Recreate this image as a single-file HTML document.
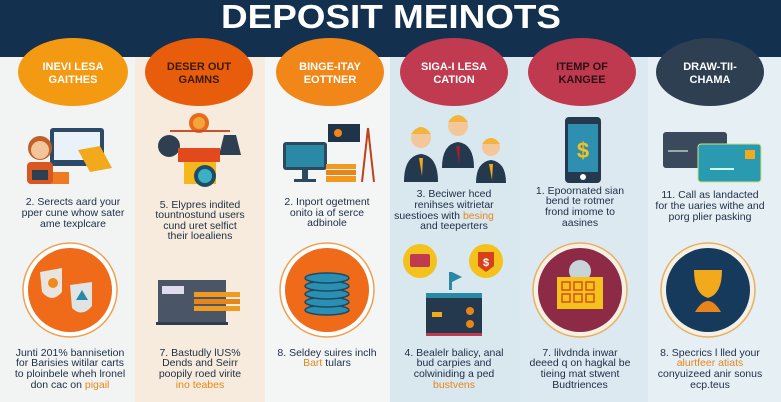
<!DOCTYPE html>
<html><head><meta charset="utf-8"><style>
html,body{margin:0;padding:0;width:781px;height:402px;overflow:hidden;background:#f3f4f4}
svg{display:block}
text{font-family:"Liberation Sans",sans-serif}
</style></head><body>
<svg width="781" height="402" viewBox="0 0 781 402">
<rect x="0" y="0" width="135" height="402" fill="#f2f3f3"/>
<rect x="135" y="0" width="130" height="402" fill="#f6ebdc"/>
<rect x="265" y="0" width="125" height="402" fill="#f4f5f5"/>
<rect x="390" y="0" width="130" height="402" fill="#d9e7ef"/>
<rect x="520" y="0" width="128" height="402" fill="#dde9f0"/>
<rect x="648" y="0" width="133" height="402" fill="#e6eff4"/>
<rect x="0" y="0" width="781" height="57" fill="#13304f"/>
<text x="221" y="28" textLength="340" lengthAdjust="spacingAndGlyphs" font-size="33" font-weight="bold" fill="#fff">DEPOSIT MEINOTS</text>
<g font-size="11" font-weight="bold" text-anchor="middle" fill="#fff">
<ellipse cx="73" cy="72" rx="55" ry="34" fill="#f39a12"/>
<text x="73" y="70">INEVI LESA</text><text x="73" y="83">GAITHES</text>
<ellipse cx="199" cy="72" rx="54" ry="34" fill="#e85d0c"/>
<text x="199" y="70" fill="#3a1a0a">DESER OUT</text><text x="199" y="83" fill="#3a1a0a">GAMNS</text>
<ellipse cx="330" cy="72" rx="54" ry="34" fill="#f08718"/>
<text x="330" y="70">BINGE-ITAY</text><text x="330" y="83">EOTTNER</text>
<ellipse cx="454" cy="72" rx="54" ry="34" fill="#c03a50"/>
<text x="454" y="70">SIGA-I LESA</text><text x="454" y="83">CATION</text>
<ellipse cx="582" cy="72" rx="54" ry="34" fill="#bf3a4f"/>
<text x="582" y="70" fill="#2a0f14">ITEMP OF</text><text x="582" y="83" fill="#2a0f14">KANGEE</text>
<ellipse cx="710" cy="72" rx="54" ry="34" fill="#2d3f51"/>
<text x="710" y="70">DRAW-TII-</text><text x="710" y="83">CHAMA</text>
</g>
<rect x="50" y="128" width="54" height="38" rx="3" fill="#2c4a66"/><rect x="54" y="132" width="46" height="28" fill="#e9f2f8"/>
<rect x="45" y="172" width="24" height="12" fill="#ee7b22"/><circle cx="40" cy="148" r="12" fill="#c0602a"/><circle cx="40" cy="150" r="9" fill="#f4c49a"/>
<rect x="27" y="162" width="26" height="22" rx="4" fill="#d8561f"/><rect x="32" y="170" width="16" height="10" fill="#2c3e50"/>
<polygon points="78,150 100,146 112,168 90,172" fill="#f3a91c"/>
<circle cx="199" cy="123" r="10" fill="#e86a1a"/><circle cx="199" cy="123" r="6" fill="#f4a53b"/>
<line x1="170" y1="131" x2="230" y2="131" stroke="#c8502a" stroke-width="2"/>
<circle cx="169" cy="146" r="11" fill="#2f3f52"/><polygon points="224,135 236,135 241,155 219,155" fill="#2f3f52"/>
<rect x="178" y="148" width="42" height="14" fill="#e24a1d"/><rect x="184" y="162" width="32" height="22" fill="#f4b81c"/>
<circle cx="205" cy="176" r="11" fill="#1c4c66"/><circle cx="205" cy="176" r="7" fill="#3ab0c4"/>
<rect x="283" y="142" width="44" height="28" rx="3" fill="#2c4a5e"/><rect x="286" y="145" width="38" height="22" fill="#2a8aa5"/>
<rect x="302" y="170" width="6" height="10" fill="#2c4a5e"/><rect x="294" y="179" width="22" height="3" fill="#2c4a5e"/>
<rect x="328" y="124" width="32" height="18" fill="#1f3448"/><circle cx="338" cy="133" r="4" fill="#f08718"/>
<rect x="326" y="164" width="30" height="5" fill="#f09a22"/><rect x="326" y="170" width="30" height="5" fill="#e8851a"/><rect x="326" y="176" width="30" height="6" fill="#f09a22"/>
<line x1="368" y1="128" x2="362" y2="182" stroke="#c0401a" stroke-width="2"/><line x1="368" y1="128" x2="374" y2="182" stroke="#c0401a" stroke-width="2"/>
<g>
<circle cx="421" cy="138" r="10" fill="#f4c79a"/><path d="M411,134 Q421,120 431,134" fill="#f2b43a"/><path d="M404,182 Q404,156 421,154 Q438,156 438,182Z" fill="#24384e"/><polygon points="419,158 423,158 422,176" fill="#f3a91c"/>
<circle cx="458" cy="126" r="10" fill="#f4c79a"/><path d="M448,122 Q458,108 468,122" fill="#f2b43a"/><path d="M442,168 Q442,144 458,142 Q474,144 474,168Z" fill="#24384e"/><polygon points="456,146 460,146 459,164" fill="#a02030"/>
<circle cx="491" cy="147" r="9" fill="#f4c79a"/><path d="M482,144 Q491,132 500,144" fill="#f2b43a"/><path d="M476,183 Q476,162 491,160 Q506,162 506,183Z" fill="#24384e"/><polygon points="489,164 493,164 492,180" fill="#f3a91c"/>
</g>
<rect x="565" y="117" width="36" height="66" rx="4" fill="#24384e"/><rect x="568" y="124" width="30" height="48" fill="#2f8fb0"/>
<text x="583" y="158" text-anchor="middle" font-size="22" font-weight="bold" fill="#f4c21c">$</text><circle cx="583" cy="177" r="3" fill="#fff"/>
<rect x="663" y="132" width="64" height="36" rx="3" fill="#3a4a5c"/><rect x="668" y="150" width="20" height="2" fill="#9aa"/>
<rect x="698" y="144" width="63" height="38" rx="3" fill="#2a9ab0" stroke="#cfe37a" stroke-width="1"/>
<rect x="745" y="150" width="10" height="9" fill="#f3a91c"/><rect x="710" y="168" width="24" height="2" fill="#cfe"/>
<g font-size="10.5" text-anchor="middle" fill="#1e2e45">
<text x="73" y="205">2. Serects aard your</text><text x="73" y="216">pper cune whow sater</text><text x="73" y="227">ame texplcare</text>
<text x="200" y="208">5. Elypres indited</text><text x="200" y="218">tountnostund users</text><text x="200" y="229">cund uret selfict</text><text x="200" y="239">their loealiens</text>
<text x="327" y="205">2. Inport ogetment</text><text x="327" y="216">onito ia of serce</text><text x="327" y="226">adbinole</text>
<text x="454" y="197">3. Beciwer hced</text><text x="454" y="208">renihses witrietar</text><text x="444" y="219">suestioes with <tspan fill="#e8851a">besing</tspan></text><text x="454" y="229">and teeperters</text>
<text x="580" y="194">1. Epoornated sian</text><text x="580" y="204">bend te rotmer</text><text x="580" y="215">frond imome to</text><text x="580" y="226">aasines</text>
<text x="710" y="198">11. Call as landacted</text><text x="710" y="209">for the uaries withe and</text><text x="710" y="220">porg plier pasking</text>
</g>
<circle cx="70" cy="290" r="47" fill="#fff" stroke="#f0a050" stroke-width="1.5"/><circle cx="70" cy="290" r="42" fill="#ef6a19"/>
<path d="M40,272 L62,268 L62,292 Q52,304 42,292Z" fill="#e9e4df"/><circle cx="53" cy="283" r="5" fill="#f08a1a"/>
<path d="M70,285 L92,282 L92,306 Q82,318 72,308Z" fill="#e0e4e4"/><polygon points="82,290 76,300 88,300" fill="#2a8aa5"/>
<circle cx="327" cy="290" r="47" fill="#fff" stroke="#f0a050" stroke-width="1.5"/><circle cx="327" cy="290" r="42" fill="#ef6a19"/>
<g fill="#2a8fb0" stroke="#1b4a66" stroke-width="1.5"><ellipse cx="327" cy="310" rx="22" ry="5"/><ellipse cx="327" cy="302" rx="22" ry="5"/><ellipse cx="327" cy="294" rx="22" ry="5"/><ellipse cx="327" cy="286" rx="22" ry="5"/><ellipse cx="327" cy="278" rx="22" ry="5"/></g>
<circle cx="580" cy="290" r="47" fill="#f5f0e4" stroke="#e8b060" stroke-width="1.5"/><circle cx="580" cy="290" r="42" fill="#8d2a46"/>
<circle cx="580" cy="271" r="11" fill="#c8d4d8"/><rect x="557" y="277" width="46" height="32" fill="#f4c21c"/>
<g stroke="#d8501a" stroke-width="1.5" fill="none"><rect x="562" y="282" width="8" height="8"/><rect x="574" y="282" width="8" height="8"/><rect x="586" y="282" width="8" height="8"/><rect x="562" y="294" width="8" height="8"/><rect x="574" y="294" width="8" height="8"/><rect x="586" y="294" width="8" height="8"/></g>
<circle cx="708" cy="290" r="47" fill="#f5f0e4" stroke="#e8b060" stroke-width="1.5"/><circle cx="708" cy="290" r="42" fill="#163a5c"/>
<path d="M694,270 L722,270 Q722,294 708,298 Q694,294 694,270Z" fill="#f3a91c"/><path d="M695,312 Q708,290 721,312Z" fill="#e8851a"/>
<rect x="158" y="280" width="68" height="44" fill="#4a5566"/><rect x="162" y="286" width="22" height="8" fill="#dde"/>
<rect x="194" y="292" width="46" height="5" fill="#f09a22"/><rect x="194" y="299" width="46" height="5" fill="#e8851a"/><rect x="194" y="306" width="46" height="5" fill="#f09a22"/>
<rect x="156" y="322" width="72" height="3" fill="#2c3e50"/>
<circle cx="420" cy="261" r="17" fill="#f4c21c"/><rect x="410" y="254" width="20" height="13" rx="2" fill="#c03a50"/>
<circle cx="486" cy="261" r="17" fill="#f4c21c"/><path d="M478,252 L494,252 L494,266 L486,272 L478,266Z" fill="#d8401a"/><text x="486" y="266" text-anchor="middle" font-size="11" font-weight="bold" fill="#fff">$</text>
<rect x="449" y="272" width="3" height="18" fill="#2a8aa5"/><polygon points="452,272 462,277 452,282" fill="#2a8aa5"/>
<rect x="426" y="293" width="56" height="42" rx="2" fill="#24384e"/><rect x="426" y="293" width="56" height="5" fill="#2a8aa5"/>
<rect x="432" y="312" width="10" height="5" fill="#f3a91c"/><circle cx="470" cy="311" r="4" fill="#e8851a"/><circle cx="470" cy="324" r="4" fill="#e8851a"/>
<rect x="426" y="333" width="56" height="3" fill="#c03a50"/>
<g font-size="10.5" text-anchor="middle" fill="#1e2e45">
<text x="70" y="356">Junti 201% bannisetion</text><text x="70" y="366">for Barisies witilar carts</text><text x="70" y="377">to ploinbele wheh lronel</text><text x="70" y="388">don cac on <tspan fill="#e8851a">pigail</tspan></text>
<text x="200" y="356">7. Bastudly lUS%</text><text x="200" y="366">Dends and Seirr</text><text x="200" y="377">poopily roed virite</text><text x="200" y="388" fill="#e8851a">ino teabes</text>
<text x="327" y="356">8. Seldey suires inclh</text><text x="327" y="366"><tspan fill="#e8851a">Bart</tspan> tulars</text>
<text x="454" y="356">4. Bealelr balicy, anal</text><text x="454" y="366">bud carpies and</text><text x="454" y="377">colwiniding a ped</text><text x="454" y="388" fill="#e8851a">bustvens</text>
<text x="580" y="356">7. lilvdnda inwar</text><text x="580" y="366">deeed q on hagkal be</text><text x="580" y="377">tieing mat stwent</text><text x="580" y="388">Budtriences</text>
<text x="710" y="356">8. Specrics l lled your</text><text x="710" y="366" fill="#e8851a">alurtfeer atiats</text><text x="710" y="377">conyuizeed anir sonus</text><text x="710" y="388">ecp.teus</text>
</g>
</svg>
</body></html>
